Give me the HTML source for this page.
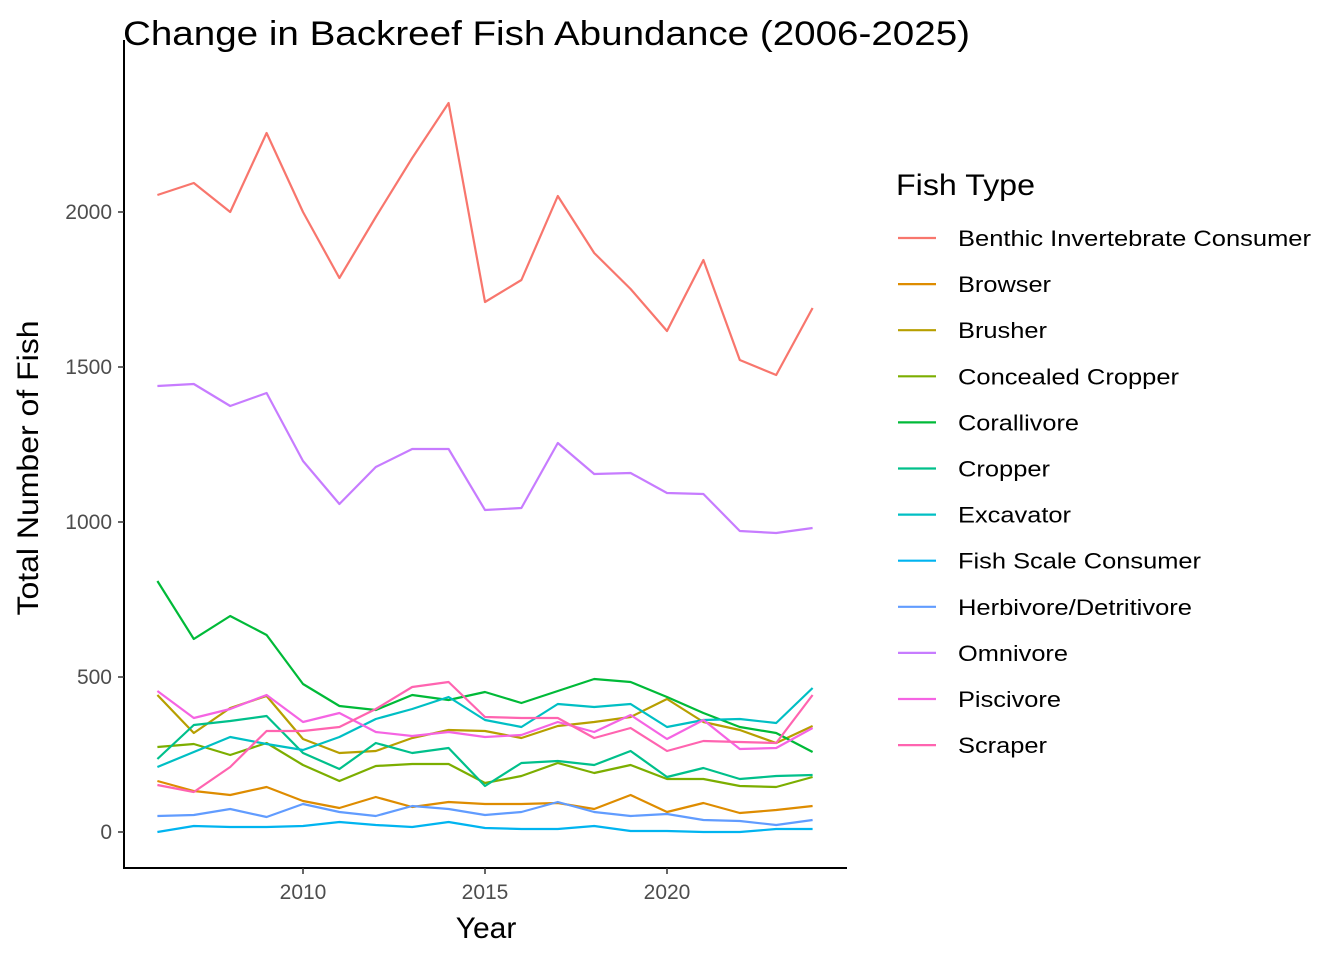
<!DOCTYPE html>
<html><head><meta charset="utf-8"><style>
body{margin:0;background:#fff}
svg{display:block;font-family:"Liberation Sans",Arial,sans-serif}
</style></head><body>
<svg id="s" width="1344" height="960" viewBox="0 0 1344 960" xmlns="http://www.w3.org/2000/svg">
<rect width="1344" height="960" fill="#fff"/>
<text x="123" y="45" font-size="34" fill="#000" textLength="847" lengthAdjust="spacingAndGlyphs">Change in Backreef Fish Abundance (2006-2025)</text>
<g id="lines" fill="none" stroke-width="2.2" stroke-linejoin="round"></g>
<g stroke="#000" stroke-width="2">
<line x1="124" y1="40" x2="124" y2="869"/>
<line x1="123" y1="868" x2="847" y2="868"/>
</g>
<g stroke="#333" stroke-width="1.5">
<line x1="118" y1="832" x2="124" y2="832"/><line x1="118" y1="677" x2="124" y2="677"/><line x1="118" y1="522" x2="124" y2="522"/><line x1="118" y1="367" x2="124" y2="367"/><line x1="118" y1="212" x2="124" y2="212"/>
<line x1="303" y1="868" x2="303" y2="874"/><line x1="485" y1="868" x2="485" y2="874"/><line x1="667" y1="868" x2="667" y2="874"/>
</g>
<g font-size="21" fill="#4d4d4d" text-anchor="end">
<text x="112" y="839">0</text><text x="112" y="684">500</text><text x="112" y="529">1000</text><text x="112" y="374">1500</text><text x="112" y="219">2000</text>
</g>
<g font-size="21" fill="#4d4d4d" text-anchor="middle">
<text x="303" y="899">2010</text><text x="485" y="899">2015</text><text x="667" y="899">2020</text>
</g>
<text x="486" y="938" font-size="30" text-anchor="middle">Year</text>
<text transform="translate(38,468) rotate(-90)" font-size="30" text-anchor="middle" textLength="295" lengthAdjust="spacingAndGlyphs">Total Number of Fish</text>
<text x="896" y="195" font-size="30" textLength="139" lengthAdjust="spacingAndGlyphs">Fish Type</text>
<g id="leg" font-size="22"></g>
</svg>
<script>
var cols=["#F8766D","#DE8C00","#B79F00","#7CAE00","#00BA38","#00C08B","#00BFC4","#00B4F0","#619CFF","#C77CFF","#F564E3","#FF64B0"];
var names=["Benthic Invertebrate Consumer","Browser","Brusher","Concealed Cropper","Corallivore","Cropper","Excavator","Fish Scale Consumer","Herbivore/Detritivore","Omnivore","Piscivore","Scraper"];
var wid=[353,93,89,221,121,92,113,243,234,110,103,89];
var d=[
[195,183,212,133,212,278,217,158,103,302,280,196,253,289,331,260,360,375,308],
[781,791,795,787,801,808,797,807,802,804,804,803,809,795,812,803,813,810,806],
[695,733,708,696,739,753,751,738,730,731,738,726,722,717,699,722,730,743,726],
[747,744,755,743,765,781,766,764,764,783,776,763,773,765,779,779,786,787,777],
[581,639,616,635,684,706,710,695,700,692,703,691,679,682,697,713,727,733,752],
[759,725,721,716,753,769,743,753,748,786,763,761,765,751,777,768,779,776,775],
[767,752,737,744,750,737,719,709,697,720,727,704,707,704,727,720,719,723,688],
[832,826,827,827,826,822,825,827,822,828,829,829,826,831,831,832,832,829,829],
[816,815,809,817,804,812,816,806,809,815,812,802,812,816,814,820,821,825,820],
[386,384,406,393,461,504,467,449,449,510,508,443,474,473,493,494,531,533,528],
[691,718,709,695,722,713,732,736,732,737,735,722,732,715,739,720,749,748,728],
[785,792,767,731,731,727,709,687,682,717,718,718,738,728,751,741,742,743,695]];
var ns="http://www.w3.org/2000/svg",g=document.getElementById("lines"),lg=document.getElementById("leg");
for(var k=0;k<12;k++){var p=d[k].map(function(y,i){return (157.4+36.4*i).toFixed(1)+","+y}).join(" ");
var e=document.createElementNS(ns,"polyline");e.setAttribute("points",p);e.setAttribute("stroke",cols[k]);g.appendChild(e);
var yy=238+46.1*k;var l=document.createElementNS(ns,"line");l.setAttribute("x1",898);l.setAttribute("x2",936);l.setAttribute("y1",yy);l.setAttribute("y2",yy);l.setAttribute("stroke",cols[k]);l.setAttribute("stroke-width",2.2);lg.appendChild(l);
var t=document.createElementNS(ns,"text");t.setAttribute("x",958);t.setAttribute("y",yy+8);t.setAttribute("textLength",wid[k]);t.setAttribute("lengthAdjust","spacingAndGlyphs");t.textContent=names[k];lg.appendChild(t);}
</script>
</body></html>
